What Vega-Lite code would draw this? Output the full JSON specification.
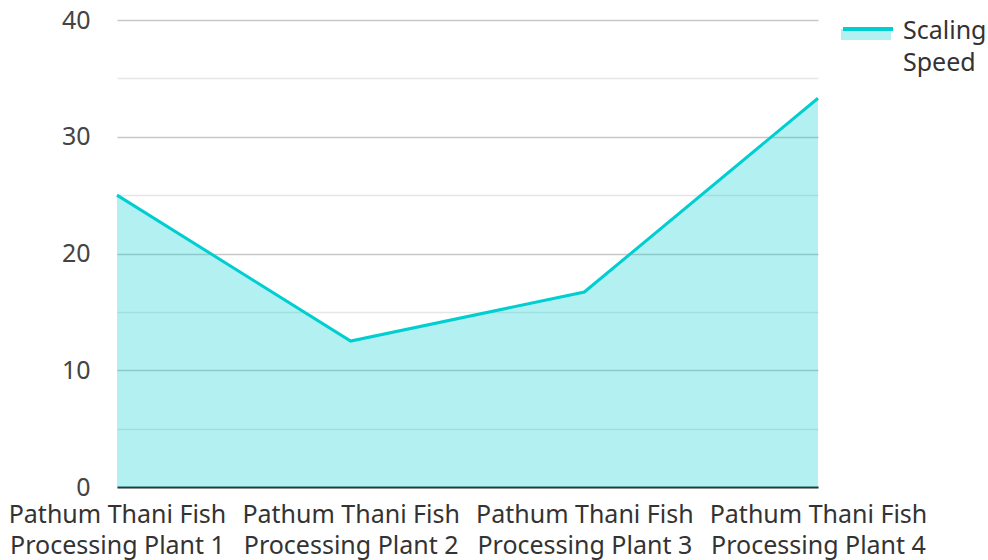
{
  "$schema": "https://vega.github.io/schema/vega-lite/v6.json",
  "width": 701,
  "height": 467,
  "autosize": "none",
  "padding": {"left": 117, "top": 20, "right": 170, "bottom": 73},
  "config": {"font": "Noto Sans", "view": {"stroke": null}, "style": {"guide-label": {"lineHeight": 32}}},
  "data": {
    "values": [
      {"plant": "Pathum Thani Fish Processing Plant 1", "series": "Scaling Speed", "speed": 25.0},
      {"plant": "Pathum Thani Fish Processing Plant 2", "series": "Scaling Speed", "speed": 12.5},
      {"plant": "Pathum Thani Fish Processing Plant 3", "series": "Scaling Speed", "speed": 16.7},
      {"plant": "Pathum Thani Fish Processing Plant 4", "series": "Scaling Speed", "speed": 33.3}
    ]
  },
  "encoding": {
    "x": {
      "field": "plant",
      "type": "ordinal",
      "sort": null,
      "scale": {"type": "point", "padding": 0},
      "axis": {
        "title": null,
        "labelAngle": 0,
        "ticks": false,
        "grid": false,
        "domainColor": "#333333",
        "domainWidth": 2,
        "labelPadding": 15,
        "labelFontSize": 25,
        "labelColor": "#333333",
        "labelLineHeight": 31,
        "labelLimit": 0,
        "labelOverlap": false,
        "labelExpr": "[substring(datum.label, 0, 17), substring(datum.label, 18)]"
      }
    },
    "y": {
      "field": "speed",
      "type": "quantitative",
      "scale": {"domain": [0, 40], "nice": false},
      "axis": {
        "title": null,
        "values": [0, 5, 10, 15, 20, 25, 30, 35, 40],
        "labelExpr": "datum.value % 10 === 0 ? datum.label : ''",
        "ticks": false,
        "domain": false,
        "labelPadding": 27,
        "labelFontSize": 25,
        "labelColor": "#444444",
        "gridColor": {"condition": {"test": "datum.value % 10 === 0", "value": "#c8c8c8"}, "value": "#e6e6e6"},
        "gridWidth": 1.5
      }
    }
  },
  "layer": [
    {
      "mark": {"type": "area", "opacity": 0.3},
      "encoding": {
        "fill": {
          "field": "series",
          "type": "nominal",
          "scale": {"range": ["#00CED1"]},
          "legend": {
            "title": null,
            "orient": "none",
            "legendX": 724,
            "legendY": -28,
            "padding": 0,
            "symbolType": "M-1,0.48H1V0.92H-1Z",
            "symbolSize": 2500,
            "symbolOpacity": 0.3,
            "symbolStrokeWidth": 0,
            "labelOpacity": 0,
            "labelFontSize": 25,
            "labelOffset": 8,
            "labelLimit": 0,
            "labelBaseline": "top",
            "labelExpr": "split(datum.label, ' ')"
          }
        }
      }
    },
    {
      "mark": {"type": "line", "strokeWidth": 3},
      "encoding": {
        "stroke": {
          "field": "series",
          "type": "nominal",
          "scale": {"range": ["#00CED1"]},
          "legend": {
            "title": null,
            "orient": "none",
            "legendX": 724,
            "legendY": -28,
            "padding": 0,
            "symbolType": "M-1,0.4H1",
            "symbolSize": 2500,
            "symbolStrokeWidth": 4,
            "labelFontSize": 25,
            "labelColor": "#333333",
            "labelOffset": 8,
            "labelLimit": 0,
            "labelBaseline": "top",
            "labelExpr": "split(datum.label, ' ')"
          }
        }
      }
    }
  ]
}
